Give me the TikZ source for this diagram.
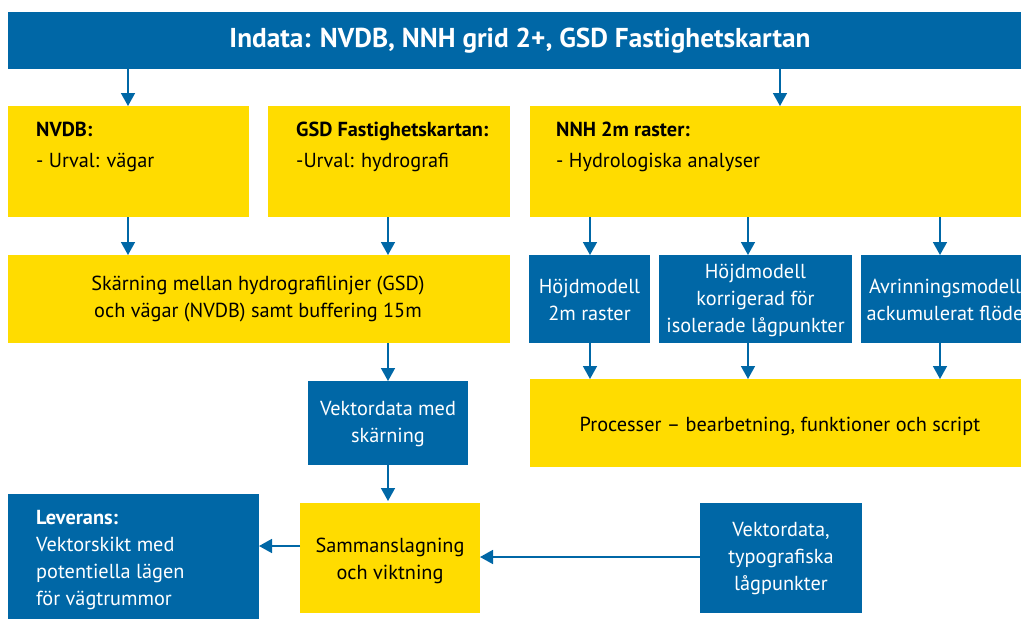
\documentclass[tikz,border=0pt]{standalone}
\usepackage{fontspec}
\setmainfont{PT Sans}
\usetikzlibrary{arrows.meta,positioning}
\definecolor{tblue}{HTML}{0067A6}
\definecolor{tyellow}{HTML}{FFDC00}
\tikzset{
  box/.style={rectangle, inner sep=0pt, outer sep=0pt, anchor=north west},
  bbox/.style={box, fill=tblue},
  ybox/.style={box, fill=tyellow},
  txt/.style={inner sep=0pt, align=center, font=\fontsize{20.3}{27}\selectfont},
  wtxt/.style={txt, text=white},
  arr/.style={draw=tblue, line width=1.6pt, -{Triangle[width=14pt,length=13pt]}},
}
\begin{document}
\begin{tikzpicture}[x=1pt,y=1pt]
\useasboundingbox (0,0) rectangle (1021,-619);
\clip (0,0) rectangle (1021,-619);
% top bar
\node[bbox, minimum width=1024, minimum height=57] (top) at (8,-12) {};
\node[wtxt, font=\fontsize{27.3}{30}\selectfont\bfseries] at (520,-41) {Indata: NVDB, NNH grid 2+, GSD Fastighetskartan};
% row 1
\node[ybox, minimum width=241, minimum height=111] (nvdb) at (8,-106) {};
\node[txt, anchor=north west, align=left, font=\fontsize{20.3}{31}\selectfont] at (36,-122) {\textbf{NVDB:}\\- Urval: vägar};
\node[ybox, minimum width=242, minimum height=111] (gsd) at (268,-106) {};
\node[txt, anchor=north west, align=left, font=\fontsize{20.3}{31}\selectfont] at (296,-122) {\textbf{GSD Fastighetskartan:}\\-Urval: hydrografi};
\node[ybox, minimum width=502, minimum height=111] (nnh) at (530,-106) {};
\node[txt, anchor=north west, align=left, font=\fontsize{20.3}{31}\selectfont] at (556,-122) {\textbf{NNH 2m raster:}\\- Hydrologiska analyser};
% row 2
\node[ybox, minimum width=502, minimum height=88] (skar) at (8,-255) {};
\node[txt] at (258,-299) {Skärning mellan hydrografilinjer (GSD)\\och vägar (NVDB) samt buffering 15m};
\node[bbox, minimum width=121, minimum height=88] (h2m) at (529,-255) {};
\node[wtxt] at ([yshift=-1pt]h2m.center) {Höjdmodell\\2m raster};
\node[bbox, minimum width=193, minimum height=88] (hkor) at (659,-255) {};
\node[wtxt] at ([yshift=-1pt]hkor.center) {Höjdmodell\\korrigerad för\\isolerade lågpunkter};
\node[bbox, minimum width=180, minimum height=88] (avr) at (861,-255) {};
\node[wtxt] at (945,-300) {Avrinningsmodell\\ackumulerat flöde};
% row 3
\node[bbox, minimum width=160, minimum height=84] (vek) at (308,-381) {};
\node[wtxt] at ([yshift=-1pt]vek.center) {Vektordata med\\skärning};
\node[ybox, minimum width=502, minimum height=88] (proc) at (530,-379) {};
\node[txt] at (780,-426) {Processer -- bearbetning, funktioner och script};
% row 4
\node[bbox, minimum width=251, minimum height=130] (lev) at (8,-494) {};
\node[wtxt, anchor=north west, align=left] at (36,-510) {\textbf{Leverans:}\\Vektorskikt med\\potentiella lägen\\för vägtrummor};
\node[ybox, minimum width=180, minimum height=110] (sam) at (300,-503) {};
\node[txt] at (390,-561) {Sammanslagning\\och viktning};
\node[bbox, minimum width=162, minimum height=110] (typ) at (700,-503) {};
\node[wtxt] at ([yshift=-1pt]typ.center) {Vektordata,\\typografiska\\lågpunkter};
% arrows
\draw[arr] (top.south -| 128,0) -- (nvdb.north -| 128,0);
\draw[arr] (top.south -| 780,0) -- (nnh.north -| 780,0);
\draw[arr] (nvdb.south -| 128,0) -- (skar.north -| 128,0);
\draw[arr] (gsd.south -| 388,0) -- (skar.north -| 388,0);
\draw[arr] (nnh.south -| 590,0) -- (h2m.north -| 590,0);
\draw[arr] (nnh.south -| 748,0) -- (hkor.north -| 748,0);
\draw[arr] (nnh.south -| 940,0) -- (avr.north -| 940,0);
\draw[arr] (h2m.south -| 590,0) -- (proc.north -| 590,0);
\draw[arr] (hkor.south -| 748,0) -- (proc.north -| 748,0);
\draw[arr] (avr.south -| 940,0) -- (proc.north -| 940,0);
\draw[arr] (skar.south -| 388,0) -- (vek.north -| 388,0);
\draw[arr] (vek.south -| 388,0) -- ([yshift=2pt]sam.north -| 388,0);
\draw[arr] (sam.west |- 0,-546) -- (lev.east |- 0,-546);
\draw[arr] (typ.west |- 0,-557) -- (sam.east |- 0,-557);
\end{tikzpicture}
\end{document}
